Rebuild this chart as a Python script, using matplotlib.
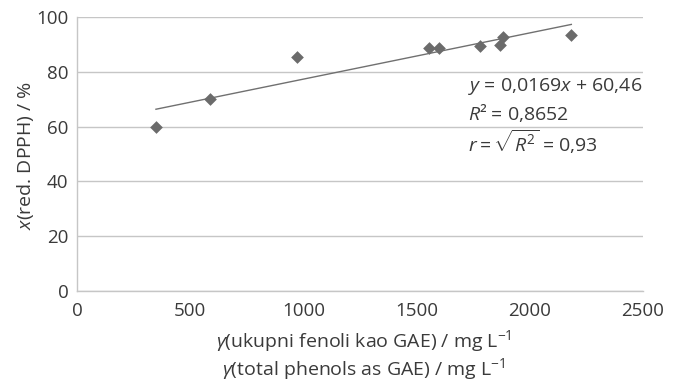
import matplotlib
matplotlib.use("Agg")
import matplotlib.pyplot as plt
import numpy as np

# values
phenols = [349, 587, 973, 1555, 1598, 1779, 1868, 1882, 2184]   # mg/L GAE
dpph    = [60.0, 70.1, 85.4, 88.7, 88.7, 89.3, 89.9, 92.8, 93.5]  # % reduction
slope, intercept = 0.0169, 60.46
x_ticks = [0, 500, 1000, 1500, 2000, 2500]
y_ticks = [0, 20, 40, 60, 80, 100]

plt.rcParams["font.family"] = ["Open Sans", "DejaVu Sans"]
plt.rcParams["mathtext.fontset"] = "custom"
plt.rcParams["mathtext.rm"] = "Open Sans"
plt.rcParams["mathtext.it"] = "Open Sans:italic"

txt = "#3a3a3a"
grid = "#c6c6c6"
fs = 14

fig = plt.figure(figsize=(6.81, 3.83), dpi=100)
ax = fig.add_axes([0.113, 0.241, 0.831, 0.714])

ax.scatter(phenols, dpph, marker="D", s=42, color="#6b6b6b", zorder=3, linewidths=0)
xs = np.array([min(phenols), max(phenols)])
ax.plot(xs, slope * xs + intercept, color="#707070", linewidth=1.0, zorder=2)

ax.set_xlim(0, 2500)
ax.set_ylim(0, 100)
ax.set_xticks(x_ticks)
ax.set_yticks(y_ticks)
ax.tick_params(length=0, labelsize=13.5, colors=txt)
ax.tick_params(axis="x", pad=8)
ax.tick_params(axis="y", pad=6)
ax.yaxis.grid(True, color=grid, linewidth=1.0)
ax.set_axisbelow(True)
for s in ["top", "right"]:
    ax.spines[s].set_visible(False)
for s in ["left", "bottom"]:
    ax.spines[s].set_color(grid)
    ax.spines[s].set_linewidth(1.0)

# axis titles
fig.text(0.037, 0.595, "$x$(red. DPPH) / %", fontsize=fs, color=txt,
         rotation=90, ha="center", va="center")
fig.text(0.534, 0.094, "$\\gamma$(ukupni fenoli kao GAE) / mg L$^{-1}$",
         fontsize=fs, color=txt, ha="center", va="baseline")
fig.text(0.534, 0.021, "$\\gamma$(total phenols as GAE) / mg L$^{-1}$",
         fontsize=fs, color=txt, ha="center", va="baseline")

# regression equation
ax.text(1726, 74.5, "$y$ = 0,0169$x$ + 60,46", fontsize=fs, color=txt, va="center")
ax.text(1726, 65.0, "$R$² = 0,8652", fontsize=fs, color=txt, va="center")
ax.text(1726, 54.4, "$r = \\sqrt{R^2}$ = 0,93", fontsize=fs, color=txt, va="center")

plt.savefig("out.png", dpi=100)
plt.close()
